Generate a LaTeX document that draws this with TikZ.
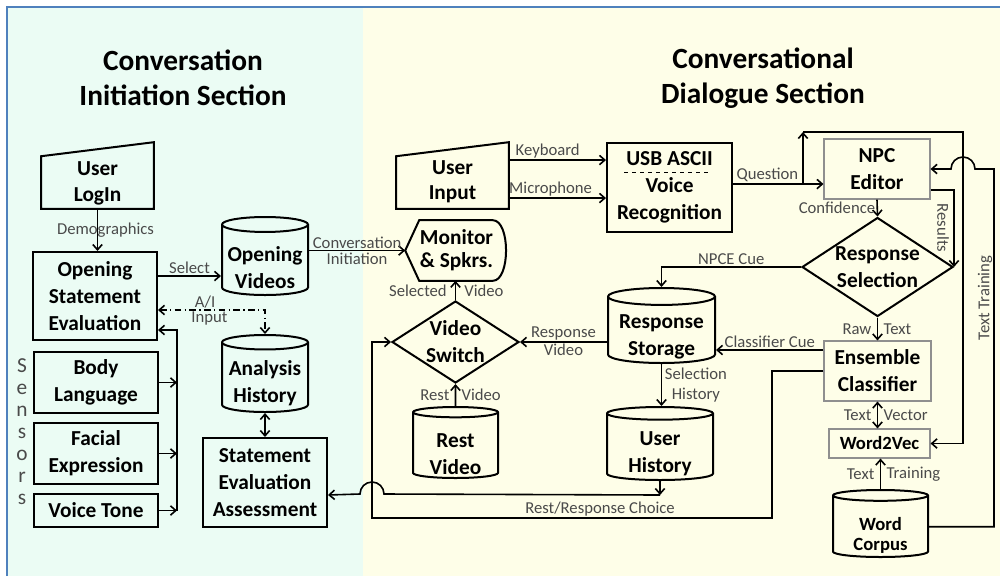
\documentclass[tikz,border=0pt]{standalone}
\usepackage{fontspec}
\setmainfont{Carlito}
\usepackage{tikz}
\usetikzlibrary{arrows.meta}
\usetikzlibrary{shapes.geometric}
\tikzset{>={Straight Barb[length=4pt,width=7pt]}}
\definecolor{mint}{HTML}{EBFCF4}
\definecolor{cream}{HTML}{FEFEE8}
\definecolor{frameblue}{HTML}{4F81BD}
\definecolor{labgray}{HTML}{4A4A4A}
\definecolor{boxgray}{HTML}{8F8F8F}

\tikzset{
  blk/.style={draw, line width=1.5pt, font=\bfseries\fontsize{16}{20.25}\selectfont,
    align=center, inner sep=0pt},
  gbox/.style={blk, draw=boxgray, line width=0.8pt},
  plain/.style={font=\bfseries\fontsize{16}{19}\selectfont, align=center, inner sep=0pt},
  db/.style={blk, cylinder, shape border rotate=90, aspect=0.2, anchor=shape center},
  dbtext/.style={plain, font=\bfseries\fontsize{16}{20.25}\selectfont},
  dia/.style={blk, diamond, aspect=1.5, inner sep=-8pt},
  lbl/.style={font=\fontsize{12.5}{15}\selectfont, text=labgray, inner sep=1pt, align=center},
  ttl/.style={font=\bfseries\fontsize{22}{26.25}\selectfont, align=center},
  sens/.style={font=\fontsize{16}{16.5}\selectfont, text=labgray, align=center},
}

\begin{document}
\begin{tikzpicture}[x=0.75pt, y=-0.75pt, line width=1.2pt]
  \useasboundingbox (0,0) rectangle (1000,576);

  %% backgrounds and frame
  \fill[mint] (7,7) rectangle (363,576);
  \fill[cream] (363,7) rectangle (1000,576);
  \draw[frameblue, line width=1.8pt] (7,576) -- (7,7) -- (1000,7);

  \node[ttl] (ttl1) at (183,77.5) {Conversation\\Initiation Section};
  \node[ttl] (ttl2) at (763,78) {Conversational\\Dialogue Section};

  %% initiation section
  \node[plain, minimum width=83.25pt, minimum height=38.25pt] (login) at (97.5,183.5) {User\\LogIn};
  \draw[line width=1.5pt] ([yshift=0.75pt]login.south west) -- ([yshift=0.75pt]login.south east)
    -- ([yshift=11.25pt]login.north east) -- ([yshift=0.75pt]login.north west) -- cycle;
  \node[blk, minimum width=93pt, minimum height=66pt] (ose) at (95,296) {Opening\\Statement\\Evaluation};
  \node[blk, minimum width=93pt, minimum height=45.75pt] (body) at (96,382.5) {Body\\Language};
  \node[blk, minimum width=93pt, minimum height=45.75pt] (face) at (96,453.5) {Facial\\Expression};
  \node[blk, minimum width=93pt, minimum height=24.75pt] (voice) at (96,510.5) {Voice Tone};
  \node[sens] (sens) at (22,432) {S\\e\\n\\s\\o\\r\\s};

  \node[db, minimum width=64.5pt, minimum height=58.5pt] (opvid) at (265,256) {\phantom{Opening}\\\phantom{Videos}};
  \node[dbtext] (opvid-t) at ([yshift=-9pt]opvid.shape center) {Opening\\Videos};
  \node[db, minimum width=64.5pt, minimum height=57.75pt] (ahist) at (265,373.5) {\phantom{Analysis}\\\phantom{History}};
  \node[dbtext] (ahist-t) at ([yshift=-7.5pt]ahist.shape center) {Analysis\\History};
  \node[blk, minimum width=93pt, minimum height=66.75pt] (sea) at (265,482.5) {Statement\\Evaluation\\Assessment};

  \draw[->] (login.south) -- (login.south |- ose.north)
    node[lbl, midway, xshift=6pt] {Demographics}; %% login -> ose
  \draw[->] ([yshift=15pt]ose.east) coordinate (sel) -- (sel -| opvid.west)
    node[lbl, midway, above] {Select};
  \draw[<->, dash pattern=on 5pt off 2.5pt on 1pt off 2.5pt]
    ([yshift=-10.5pt]ose.east) -| (ahist.north)
    node[lbl, pos=0.22, above] {A/I} node[lbl, pos=0.24, below] {Input};
  \draw[<->] (ahist.south) -- (sea.north);

  \coordinate (bus) at (177,0);
  \draw[->] (body.east) -- (body.east -| bus);
  \draw[->] (face.east) -- (face.east -| bus);
  \draw[->] (voice.east) -- (voice.east -| bus);
  \draw[->] (voice.east -| bus) |- ([yshift=-25.5pt]ose.east); %% sensors -> ose

  %% dialogue section
  \node[plain, minimum width=83.25pt, minimum height=38.25pt] (uin) at (452.5,181.5) {User\\Input};
  \draw[line width=1.5pt] ([yshift=-0.75pt]uin.south west) -- ([yshift=-0.75pt]uin.south east)
    -- ([yshift=9.75pt]uin.north east) -- ([yshift=-0.75pt]uin.north west) -- cycle;
  \node[blk, minimum width=93.75pt, minimum height=66.75pt] (usb) at (669.5,187.5) {USB ASCII\\Voice\\Recognition};
  \draw[dashed, line width=0.6pt] ([xshift=-34pt,yshift=11.6pt]usb.center)
    -- ([xshift=31pt,yshift=11.6pt]usb.center);

  \node[plain, minimum width=75.75pt, minimum height=44.25pt, font=\bfseries\fontsize{16}{17.5}\selectfont]
    (mon) at (456.5,250.5) {Monitor\\\& Spkrs.};
  \draw[line width=1.5pt] (mon.west) -- ([xshift=10.5pt]mon.north west)
    -- ([xshift=-11.25pt]mon.north east)
    .. controls ([xshift=2pt]mon.north east) and ([xshift=2pt]mon.south east) ..
    ([xshift=-11.25pt]mon.south east) -- ([xshift=10.5pt]mon.south west) -- cycle;

  \node[dia, minimum width=95.25pt, minimum height=61.5pt] (vsw) at (455.5,342) {Video\\Switch};
  \node[db, minimum width=63.75pt, minimum height=53.25pt] (restv) at (455.5,442.5) {\phantom{Rest}\\\phantom{Video}};
  \node[dbtext] (restv-t) at ([yshift=-8.5pt]restv.shape center) {Rest\\Video};
  \node[db, minimum width=80.25pt, minimum height=56.25pt] (rstor) at (661.5,325.5) {\phantom{Response}\\\phantom{Storage}};
  \node[dbtext] (rstor-t) at ([yshift=-8.25pt]rstor.shape center) {Response\\Storage};
  \node[db, minimum width=79.5pt, minimum height=54.75pt] (uhist) at (660,443.5) {\phantom{User}\\\phantom{History}};
  \node[dbtext] (uhist-t) at ([yshift=-7.5pt]uhist.shape center) {User\\History};

  \node[gbox, minimum width=79.5pt, minimum height=45pt] (npc) at (877,169) {NPC\\Editor};
  \node[dia, minimum width=113.25pt, minimum height=74.25pt] (rsel) at (877.5,267) {Response\\Selection};
  \node[gbox, minimum width=80.25pt, minimum height=45pt] (ens) at (877.5,371) {Ensemble\\Classifier};
  \node[gbox, minimum width=75.75pt, minimum height=21.75pt, font=\bfseries\fontsize{14}{16}\selectfont]
    (w2v) at (879.5,443.5) {Word2Vec};
  \node[db, minimum width=71.25pt, minimum height=50.25pt, font=\bfseries\fontsize{14}{15}\selectfont]
    (corpus) at (880.5,523.5) {\phantom{Word}\\\phantom{Corpus}};
  \node[dbtext, font=\bfseries\fontsize{14}{15}\selectfont] (corpus-t)
    at ([yshift=-9pt]corpus.shape center) {Word\\Corpus};

  \draw[->] (opvid.east |- mon.west) -- (mon.west)
    node[lbl, midway, above] {Conversation} node[lbl, midway, below] {Initiation};

  \draw[->] ([yshift=16.1pt]uin.east) coordinate (kb) -- (kb -| usb.west)
    node[lbl, pos=0.4, above] {Keyboard};
  \draw[->] ([yshift=-12.4pt]uin.east) coordinate (mic) -- (mic -| usb.west)
    node[lbl, pos=0.43, above] {Microphone};

  \draw[->] ([yshift=2.6pt]usb.east) coordinate (q) -- (q -| npc.west)
    node[lbl, pos=0.38, above] {Question};
  \coordinate (qb) at (803,132);
  \coordinate (qt) at (963,132);
  \draw[->] (q -| qb) -- (qb); %% question -> up
  \draw[->] (qb) -- (qt) |- (w2v.east); %% question -> word2vec

  \draw[->] (npc.south) -- (rsel.north) node[lbl, midway, left] {Confidence};
  \draw[->] ([yshift=-15.75pt]npc.east) -| (rsel.east); %% results
  \node[lbl, rotate=-90] (reslbl) at (943,228) {Results};

  \draw[->] (rsel.south) -- (ens.north)
    node[lbl, midway, left=3pt] {Raw} node[lbl, midway, right=3pt] {Text};
  \draw[->] (rsel.west) -| (rstor.north) node[lbl, pos=0.25, above] {NPCE Cue};
  \draw[->] ([yshift=15.75pt]ens.west) coordinate (cc) -- (cc -| rstor.east)
    node[lbl, midway, above] {Classifier Cue};

  \draw[->] (rstor.west |- vsw.east) -- (vsw.east)
    node[lbl, midway, above] {Response} node[lbl, midway, below] {Video};
  \draw[->] (vsw.north) -- (vsw.north |- mon.south)
    node[lbl, midway, left=5pt] {Selected} node[lbl, midway, right=5pt] {Video};
  \draw[->] (restv.north) -- (vsw.south)
    node[lbl, midway, left=3pt] {Rest} node[lbl, midway, right=3pt] {Video};
  \draw[->] (rstor.south) -- (rstor.south |- uhist.north)
    node[lbl, midway, right=1pt] {Selection\\History};

  \draw[<->] (ens.south) -- (ens.south |- w2v.north)
    node[lbl, midway, left=3pt] {Text} node[lbl, midway, right=3pt] {Vector};
  \draw[->] (corpus.north) -- (corpus.north |- w2v.south)
    node[lbl, midway, left=3pt] {Text} node[lbl, midway, right=3pt] {Training};

  %% corpus -> npc editor, jumping the question line
  \coordinate (tr) at (994,169);
  \coordinate (jmp2) at (963,169);
  \draw[->] (corpus.east) -| (tr) -- ([xshift=9pt]jmp2)
    arc[start angle=0, end angle=180, radius=9pt] -- (npc.east);
  \node[lbl, rotate=90] (ttlbl) at (985,298) {Text Training};

  %% rest/response choice
  \coordinate (rc1) at (772,518);
  \coordinate (rc2) at (372,518);
  \draw[->] (ens.west) -| (rc1) -- (rc2)
    node[lbl, pos=0.43, above] {Rest/Response Choice} |- (vsw.west);

  %% user history -> assessment
  \draw[->] (uhist.south) -- ++(0,14) coordinate (uh);
  \coordinate (jmp1) at (372,494);
  \draw[->] (uh) -- ([xshift=9pt]jmp1)
    arc[start angle=0, end angle=180, radius=9pt] -- (uh -| sea.east);

\end{tikzpicture}
\end{document}
